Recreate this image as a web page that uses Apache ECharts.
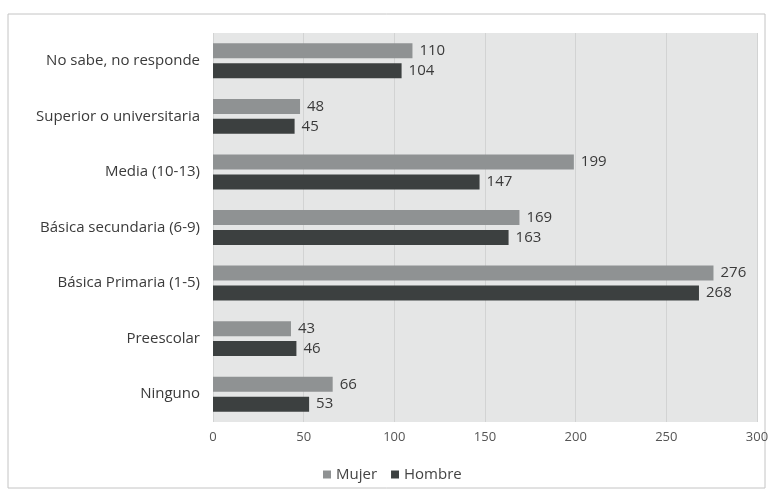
<!DOCTYPE html>
<html>
<head>
<meta charset="utf-8">
<script src="https://cdn.jsdelivr.net/npm/echarts@6/dist/echarts.min.js"></script>
<style>html,body{margin:0;padding:0;background:#fff;}#c{width:772px;height:494px;}</style>
</head>
<body>
<div id="c"></div>
<script>
const categories = ['Ninguno', 'Preescolar', 'Básica Primaria (1-5)', 'Básica secundaria (6-9)', 'Media (10-13)', 'Superior o universitaria', 'No sabe, no responde'];
const mujer = [66, 43, 276, 169, 199, 48, 110];
const hombre = [53, 46, 268, 163, 147, 45, 104];
const xTicks = [0, 50, 100, 150, 200, 250, 300];

const chart = echarts.init(document.getElementById('c'));
const font = '"Open Sans", Lato, sans-serif';
const labelStyle = { show: true, position: 'right', distance: 7, color: '#3a3a3a', fontSize: 15, fontFamily: font };
chart.setOption({
  animation: false,
  textStyle: { fontFamily: font },
  graphic: [{
    type: 'rect', shape: { x: 8, y: 14, width: 757, height: 474 },
    style: { fill: 'none', stroke: '#c4c4c4', lineWidth: 1 }, silent: true
  }],
  grid: { left: 213, right: 15, top: 33, bottom: 72, show: true, backgroundColor: '#e5e6e6', borderWidth: 0 },
  legend: {
    data: ['Mujer', 'Hombre'], top: 462, left: 318,
    itemWidth: 8, itemHeight: 8, itemGap: 14, icon: 'rect',
    textStyle: { color: '#444', fontSize: 15, fontFamily: font }
  },
  xAxis: {
    type: 'value', min: xTicks[0], max: xTicks[xTicks.length - 1], interval: 50,
    axisLine: { show: false }, axisTick: { show: false },
    axisLabel: { color: '#555', fontSize: 13, fontFamily: font, margin: 9 },
    splitLine: { show: true, lineStyle: { color: '#d2d3d3', width: 1 } }
  },
  yAxis: {
    type: 'category', data: categories,
    axisLine: { show: false }, axisTick: { show: false },
    axisLabel: { color: '#3a3a3a', fontSize: 15, fontFamily: font, margin: 13 }
  },
  series: [
    { name: 'Mujer', type: 'bar', data: mujer, barWidth: 15, barGap: '33%',
      itemStyle: { color: '#8f9293' }, label: labelStyle },
    { name: 'Hombre', type: 'bar', data: hombre, barWidth: 15, barGap: '33%',
      itemStyle: { color: '#3c4040' }, label: labelStyle }
  ]
});
</script>
</body>
</html>
